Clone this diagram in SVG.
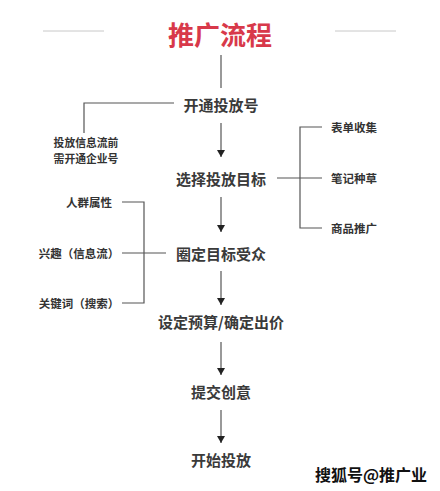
<svg xmlns="http://www.w3.org/2000/svg" width="440" height="491" viewBox="0 0 440 491">
<defs>
<style>
text{font-family:"Noto Sans CJK SC","Noto Sans",sans-serif;text-anchor:middle;dominant-baseline:central}
.title{font-size:26px;font-weight:700;fill:#d8394a}
.main{font-size:15px;font-weight:700;fill:#3a3a3a}
.side{font-size:11.5px;font-weight:700;fill:#333}
.note{font-size:10.8px;font-weight:700;fill:#333}
.wm{font-size:16px;font-weight:700;fill:#111;stroke:#fff;stroke-width:0.6;paint-order:stroke}
.line{fill:none;stroke:#555;stroke-width:1.2}
.deco{fill:none;stroke:#c8c8c8;stroke-width:1}
</style>
<marker id="arr" viewBox="0 0 7 8" refX="7" refY="4" markerWidth="7" markerHeight="8" markerUnits="userSpaceOnUse" orient="auto">
<path d="M0,0 L7,4 L0,8 Z" fill="#222"/>
</marker>
</defs>
<rect width="440" height="491" fill="#fff"/>
<g id="decor">
<line class="deco" x1="43" y1="31" x2="104" y2="31"/>
<line class="deco" x1="335" y1="31" x2="396" y2="31"/>
</g>
<g id="connectors">
<line class="line" x1="221" y1="55" x2="221" y2="88"/>
<path class="line" d="M174,103 H84 V133"/>
<line class="line" x1="221" y1="123" x2="221" y2="157" marker-end="url(#arr)"/>
<path class="line" d="M277,178 H322 M322,127 H300 V228 H322"/>
<line class="line" x1="221" y1="197" x2="221" y2="232" marker-end="url(#arr)"/>
<path class="line" d="M122,202 H144 V303 H122 M122,253 H166"/>
<line class="line" x1="221" y1="271" x2="221" y2="305" marker-end="url(#arr)"/>
<line class="line" x1="221" y1="342" x2="221" y2="375" marker-end="url(#arr)"/>
<line class="line" x1="221" y1="410" x2="221" y2="443" marker-end="url(#arr)"/>
</g>
<g id="title"><text class="title" x="220" y="33">推广流程</text></g>
<g id="n1"><text class="main" x="221" y="104">开通投放号</text></g>
<g id="note"><text class="note"><tspan x="86" y="142.2">投放信息流前</tspan><tspan x="86" y="158">需开通企业号</tspan></text></g>
<g id="n2"><text class="main" x="221" y="178">选择投放目标</text></g>
<g id="r1"><text class="side" x="354" y="127">表单收集</text></g>
<g id="r2"><text class="side" x="354" y="178">笔记种草</text></g>
<g id="r3"><text class="side" x="354" y="228">商品推广</text></g>
<g id="n3"><text class="main" x="221" y="253">圈定目标受众</text></g>
<g id="l1"><text class="side" x="89" y="202">人群属性</text></g>
<g id="l2"><text class="side" x="79" y="253">兴趣（信息流）</text></g>
<g id="l3"><text class="side" x="79" y="303">关键词（搜索）</text></g>
<g id="n4"><text class="main" x="221" y="321">设定预算/确定出价</text></g>
<g id="n5"><text class="main" x="221" y="391">提交创意</text></g>
<g id="n6"><text class="main" x="221" y="459">开始投放</text></g>
<g id="watermark"><text class="wm" x="371" y="474">搜狐号@推广业</text></g>
</svg>
